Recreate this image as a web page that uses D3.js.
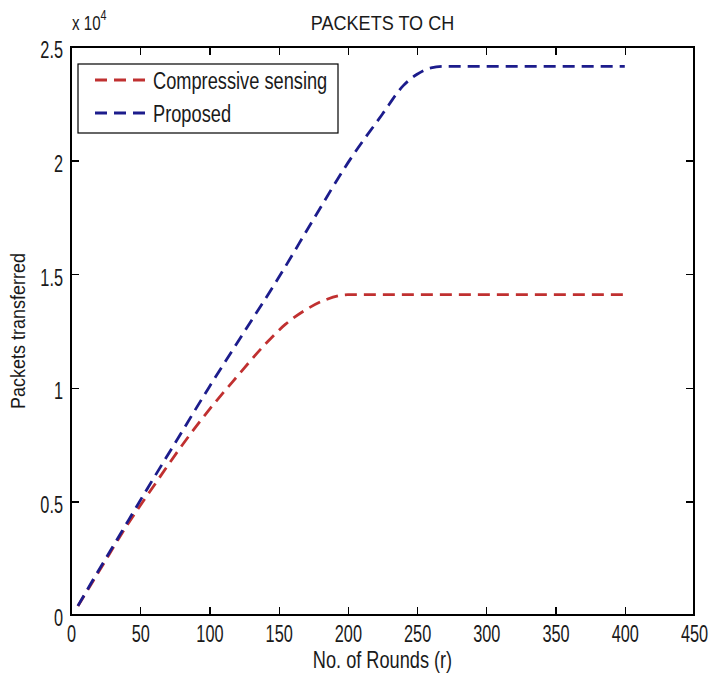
<!DOCTYPE html>
<html>
<head>
<meta charset="utf-8">
<script src="https://d3js.org/d3.v7.min.js"></script>
<style>
body {
  margin: 0;
  background-color: #fff;
}
text {
  font-family: "Liberation Sans", Arial, sans-serif;
  fill: #1a1a1a;
}
.axis path,
.axis line {
  fill: none;
  stroke: #000;
  stroke-width: 1.3;
  shape-rendering: crispEdges;
}
</style>
</head>
<body>
<script>
// rounds vs packets
var csRounds   = [5, 20, 40, 60, 80, 100, 120, 140, 155, 170, 185, 200, 400];
var csPackets  = [400, 1900, 3900, 5700, 7450, 9050, 10500, 11900, 12800, 13450, 13900, 14100, 14100];
var propRounds  = [5, 15, 35, 55, 75, 100, 125, 150, 175, 200, 225, 240, 250, 260, 270, 400];
var propPackets = [400, 1450, 3500, 5550, 7550, 10050, 12450, 14850, 17400, 19900, 22050, 23300, 23800, 24080, 24150, 24150];
var seriesNames = ["Compressive sensing", "Proposed"];
var xTicks = [0, 50, 100, 150, 200, 250, 300, 350, 400, 450];
var yTicks = [0, 5000, 10000, 15000, 20000, 25000];
var yTickLabels = ["0", "0.5", "1", "1.5", "2", "2.5"];

var width = 711, height = 675;
var margin = {top: 47, right: 17, bottom: 60, left: 71};
var w = width - margin.left - margin.right,
    h = height - margin.top - margin.bottom;

var colors = ["#c03030", "#1c1c8c"];
var tickSqueeze = 0.68;

var svg = d3.select("body").append("svg")
    .attr("width", width)
    .attr("height", height);

// the original uses a tall narrow font, fake it with a horizontal squeeze
function squeezed(parent, px, py, sx, size, str) {
  return parent.append("text")
    .attr("transform", "translate(" + px + "," + py + ") scale(" + sx + ",1)")
    .attr("font-size", size + "px")
    .text(str);
}

var g = svg.append("g")
    .attr("transform", "translate(" + margin.left + "," + margin.top + ")");

var x = d3.scaleLinear().domain([0, 450]).range([0, w]);
var y = d3.scaleLinear().domain([0, 25000]).range([h, 0]);

// frame
g.append("rect")
  .attr("width", w).attr("height", h)
  .attr("fill", "none")
  .attr("stroke", "#000")
  .attr("stroke-width", 1.3)
  .attr("shape-rendering", "crispEdges");

// axes, ticks pointing inward like matlab
var xAxis = g.append("g")
  .attr("class", "axis")
  .attr("transform", "translate(0," + h + ")")
  .call(d3.axisBottom(x).tickValues(xTicks).tickSizeInner(-8).tickSizeOuter(0));
xAxis.selectAll("text")
  .attr("font-size", "24px")
  .attr("y", 27).attr("dy", 0)
  .attr("transform", "scale(" + tickSqueeze + ",1)");

g.append("g")
  .attr("class", "axis")
  .call(d3.axisTop(x).tickValues(xTicks).tickSizeInner(-8).tickSizeOuter(0).tickFormat(""));

var yAxis = g.append("g")
  .attr("class", "axis")
  .call(d3.axisLeft(y).tickValues(yTicks).tickSizeInner(-8).tickSizeOuter(0)
    .tickFormat(function(d, i) { return yTickLabels[i]; }));
yAxis.selectAll("text")
  .attr("font-size", "24px")
  .attr("x", -8 / tickSqueeze)
  .attr("dy", "0.45em")
  .attr("transform", "scale(" + tickSqueeze + ",1)");

g.append("g")
  .attr("class", "axis")
  .attr("transform", "translate(" + w + ",0)")
  .call(d3.axisRight(y).tickValues(yTicks).tickSizeInner(-8).tickSizeOuter(0).tickFormat(""));

g.selectAll(".axis .domain").remove();

// exponent label
var expo = squeezed(svg, 72, 30, 0.72, 21, "x 10");
expo.append("tspan").attr("dy", -10).attr("font-size", "15px").text("4");

// lines
var line = d3.line()
  .x(function(d) { return x(d[0]); })
  .y(function(d) { return y(d[1]); })
  .curve(d3.curveMonotoneX);

var series = [
  d3.zip(csRounds, csPackets),
  d3.zip(propRounds, propPackets)
];

g.selectAll(".series")
  .data(series)
  .enter().append("path")
  .attr("class", "series")
  .attr("d", line)
  .attr("fill", "none")
  .attr("stroke", function(d, i) { return colors[i]; })
  .attr("stroke-width", 2.8)
  .attr("stroke-dasharray", "12,7");

// legend
var legend = g.append("g")
  .attr("transform", "translate(7,17)");
legend.append("rect")
  .attr("width", 260).attr("height", 69)
  .attr("fill", "#fff")
  .attr("stroke", "#000")
  .attr("stroke-width", 1.2);

var items = legend.selectAll(".legend")
  .data(seriesNames)
  .enter().append("g")
  .attr("class", "legend")
  .attr("transform", function(d, i) { return "translate(0," + (16 + i * 33) + ")"; });

items.append("line")
  .attr("x1", 17).attr("x2", 70)
  .attr("stroke", function(d, i) { return colors[i]; })
  .attr("stroke-width", 2.8)
  .attr("stroke-dasharray", "12,7");

items.each(function(d) {
  squeezed(d3.select(this), 75, 9, 0.76, 24, d);
});

// titles
squeezed(svg, margin.left + w / 2, 30, 0.86, 21, "PACKETS TO CH")
  .attr("text-anchor", "middle");

squeezed(svg, margin.left + w / 2, 668, 0.79, 23, "No. of Rounds (r)")
  .attr("text-anchor", "middle");

svg.append("text")
  .attr("transform", "translate(25," + (margin.top + h / 2) + ") rotate(-90) scale(0.9,1)")
  .attr("text-anchor", "middle")
  .attr("font-size", "20px")
  .text("Packets transferred");
</script>
</body>
</html>
